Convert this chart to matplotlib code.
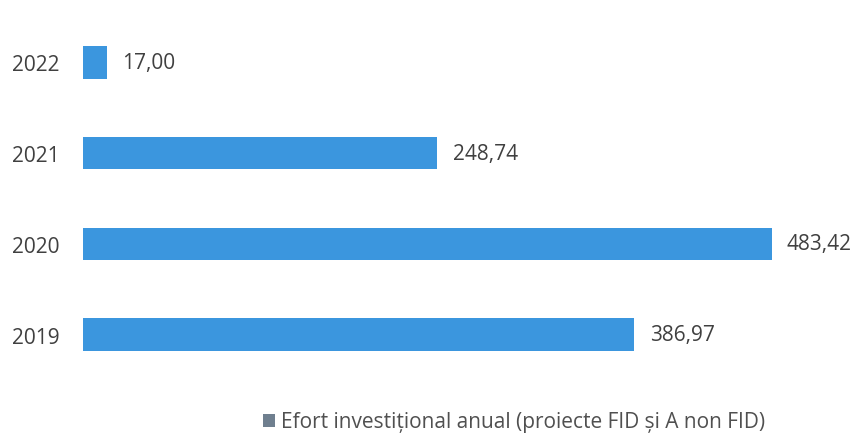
import matplotlib
matplotlib.use("Agg")
import matplotlib.pyplot as plt
from matplotlib.patches import Patch

years = ["2019", "2020", "2021", "2022"]
values = [386.97, 483.42, 248.74, 17.00]
value_labels = ["386,97", "483,42", "248,74", "17,00"]
series_name = "Efort investițional anual (proiecte FID și A non FID)"

plt.rcParams['font.family'] = ['Open Sans', 'DejaVu Sans']

W, H = 858, 435
fig = plt.figure(figsize=(W / 100, H / 100), dpi=100)
left, right = 83, 858
top, bottom = 18, 381
ax = fig.add_axes([left / W, 1 - bottom / H, (right - left) / W, (bottom - top) / H])

bar_color = "#3b96de"
ypos = list(range(len(years)))
ax.barh(ypos, values, height=0.36, color=bar_color, label=series_name)
ax.set_xlim(0, 544)
ax.set_ylim(-0.5, 3.5)

for y, v, lab in zip(ypos, values, value_labels):
    ax.annotate(lab, xy=(v, y), xytext=(11, 0), textcoords="offset points",
                ha="left", va="center", fontsize=15, color="#404040")

ax.set_yticks(ypos)
ax.set_yticklabels(years, fontsize=15, color="#404040")
ax.tick_params(axis="y", length=0, pad=17)
ax.set_xticks([])
for s in ax.spines.values():
    s.set_visible(False)

handle = Patch(facecolor="#6f7f8f", edgecolor="none")
fig.legend(handles=[handle], labels=[series_name], loc="center",
           bbox_to_anchor=(514 / W, 1 - 423 / H), frameon=False,
           fontsize=15, labelcolor="#505050", handlelength=0.6, handleheight=0.6,
           handletextpad=0.3)

fig.savefig("out.png", dpi=100, facecolor="white")
